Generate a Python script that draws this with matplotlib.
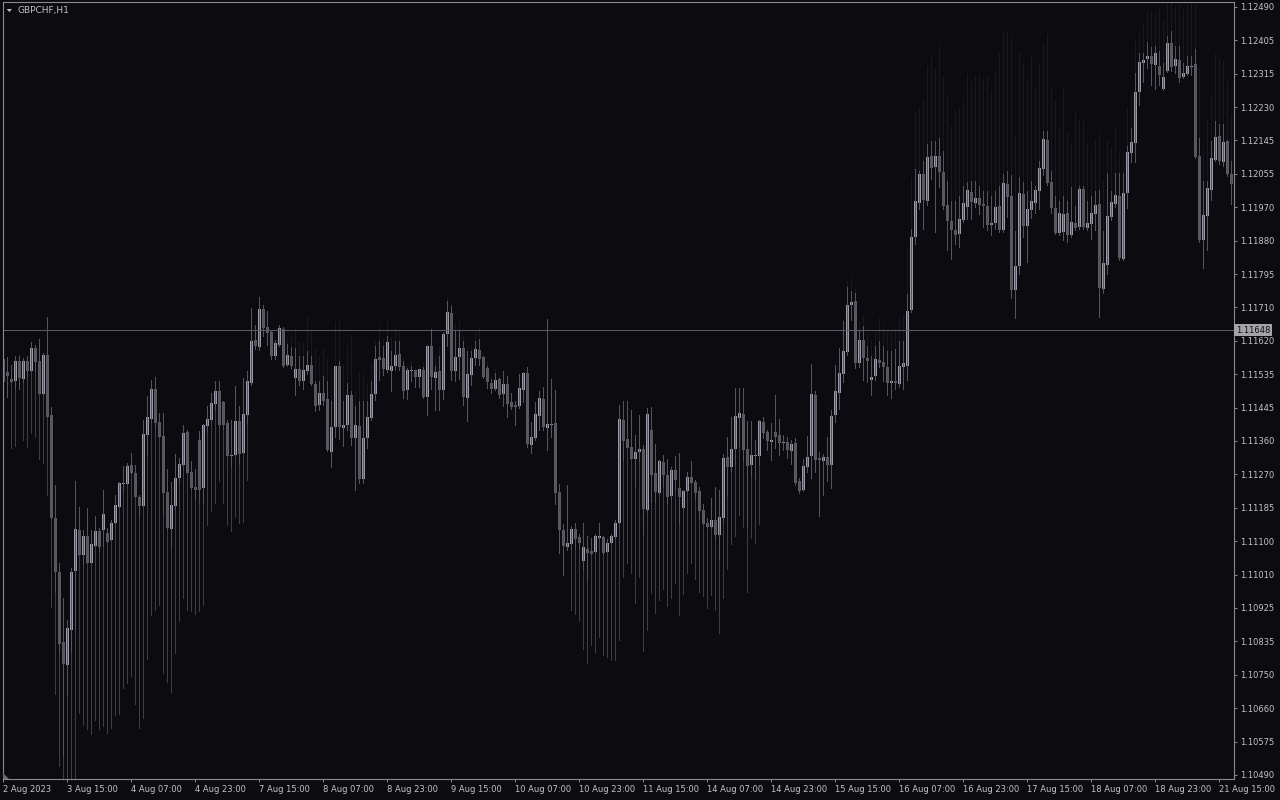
import numpy as np
import matplotlib
matplotlib.use('Agg')
import matplotlib.pyplot as plt
from matplotlib.patches import Polygon

# GBPCHF H1 candles, one bar per hour (weekend hours skipped)
symbol = 'GBPCHF,H1'
bid = 1.11648

opens = [
    1.11574, 1.11539, 1.11521, 1.11515, 1.11568, 1.11521, 1.11568, 1.11541, 1.11602, 1.11568, 1.11482, 1.11584,
    1.11427, 1.11159, 1.11019, 1.10836, 1.10776, 1.10867, 1.11021, 1.11128, 1.11063, 1.11112, 1.11042, 1.11086,
    1.11125, 1.11128, 1.11120, 1.11102, 1.11146, 1.11188, 1.11248, 1.11248, 1.11297, 1.11276, 1.11214, 1.11190,
    1.11375, 1.11417, 1.11495, 1.11409, 1.11372, 1.11227, 1.11131, 1.11190, 1.11263, 1.11297, 1.11383, 1.11279,
    1.11240, 1.11362, 1.11237, 1.11398, 1.11414, 1.11456, 1.11489, 1.11461, 1.11406, 1.11320, 1.11323, 1.11411,
    1.11328, 1.11427, 1.11510, 1.11623, 1.11605, 1.11704, 1.11657, 1.11644, 1.11581, 1.11610, 1.11652, 1.11558,
    1.11581, 1.11523, 1.11548, 1.11515, 1.11541, 1.11558, 1.11508, 1.11453, 1.11484, 1.11469, 1.11331, 1.11396,
    1.11555, 1.11393, 1.11401, 1.11479, 1.11367, 1.11398, 1.11261, 1.11367, 1.11419, 1.11482, 1.11579, 1.11576,
    1.11544, 1.11541, 1.11555, 1.11587, 1.11555, 1.11492, 1.11541, 1.11544, 1.11526, 1.11544, 1.11474, 1.11607,
    1.11523, 1.11541, 1.11492, 1.11639, 1.11693, 1.11541, 1.11579, 1.11602, 1.11471, 1.11531, 1.11576, 1.11597,
    1.11579, 1.11549, 1.11510, 1.11495, 1.11521, 1.11482, 1.11508, 1.11461, 1.11453, 1.11450, 1.11492, 1.11536,
    1.11349, 1.11367, 1.11424, 1.11469, 1.11393, 1.11401, 1.11406, 1.11227, 1.11128, 1.11084, 1.11092, 1.11131,
    1.11110, 1.11047, 1.11079, 1.11073, 1.11071, 1.11107, 1.11110, 1.11071, 1.11094, 1.11110, 1.11146, 1.11414,
    1.11365, 1.11344, 1.11313, 1.11331, 1.11339, 1.11180, 1.11388, 1.11276, 1.11224, 1.11305, 1.11271, 1.11216,
    1.11284, 1.11237, 1.11185, 1.11229, 1.11266, 1.11253, 1.11229, 1.11180, 1.11146, 1.11136, 1.11154, 1.11115,
    1.11159, 1.11318, 1.11292, 1.11339, 1.11419, 1.11430, 1.11339, 1.11297, 1.11320, 1.11320, 1.11409, 1.11383,
    1.11357, 1.11383, 1.11375, 1.11354, 1.11357, 1.11333, 1.11354, 1.11255, 1.11232, 1.11292, 1.11320, 1.11479,
    1.11315, 1.11307, 1.11318, 1.11297, 1.11427, 1.11484, 1.11534, 1.11592, 1.11714, 1.11724, 1.11563, 1.11623,
    1.11576, 1.11518, 1.11528, 1.11571, 1.11566, 1.11552, 1.11510, 1.11515, 1.11508, 1.11552, 1.11555, 1.11701,
    1.11891, 1.11979, 1.12055, 1.11985, 1.12101, 1.12073, 1.12101, 1.12060, 1.11974, 1.11932, 1.11909, 1.11899,
    1.11935, 1.11969, 1.12008, 1.11979, 1.11992, 1.11977, 1.11972, 1.11922, 1.11927, 1.11972, 1.11909, 1.12029,
    1.11997, 1.11753, 1.11815, 1.12003, 1.11919, 1.11961, 1.11979, 1.12010, 1.12068, 1.12143, 1.12034, 1.11966,
    1.11901, 1.11904, 1.11953, 1.11896, 1.11927, 1.11917, 1.12016, 1.11914, 1.11925, 1.11951, 1.11977, 1.11755,
    1.11818, 1.11943, 1.11977, 1.11997, 1.11834, 1.12005, 1.12109, 1.12135, 1.12268, 1.12344, 1.12354, 1.12362,
    1.12339, 1.12336, 1.12276, 1.12323, 1.12396, 1.12336, 1.12352, 1.12307, 1.12315, 1.12334, 1.12341, 1.12101,
    1.11883, 1.11946, 1.12013, 1.12091, 1.12154, 1.12086, 1.12141, 1.12055]

highs = [
    1.11597, 1.11579, 1.11558, 1.11581, 1.11581, 1.11576, 1.11581, 1.11618, 1.11610, 1.11626, 1.11589, 1.11683,
    1.11448, 1.11245, 1.11042, 1.10951, 1.10893, 1.11029, 1.11255, 1.11188, 1.11128, 1.11185, 1.11128, 1.11164,
    1.11133, 1.11232, 1.11133, 1.11154, 1.11219, 1.11253, 1.11294, 1.11302, 1.11328, 1.11297, 1.11219, 1.11414,
    1.11476, 1.11518, 1.11526, 1.11432, 1.11432, 1.11287, 1.11253, 1.11326, 1.11315, 1.11401, 1.11388, 1.11307,
    1.11287, 1.11385, 1.11404, 1.11450, 1.11484, 1.11515, 1.11515, 1.11463, 1.11414, 1.11414, 1.11502, 1.11450,
    1.11523, 1.11541, 1.11706, 1.11662, 1.11735, 1.11714, 1.11698, 1.11649, 1.11623, 1.11662, 1.11657, 1.11615,
    1.11607, 1.11605, 1.11584, 1.11584, 1.11597, 1.11584, 1.11518, 1.11518, 1.11531, 1.11518, 1.11466, 1.11558,
    1.11571, 1.11466, 1.11513, 1.11492, 1.11453, 1.11466, 1.11466, 1.11466, 1.11518, 1.11610, 1.11623, 1.11610,
    1.11636, 1.11597, 1.11623, 1.11623, 1.11571, 1.11552, 1.11558, 1.11546, 1.11549, 1.11555, 1.11610, 1.11652,
    1.11558, 1.11584, 1.11644, 1.11727, 1.11714, 1.11649, 1.11649, 1.11623, 1.11597, 1.11597, 1.11623, 1.11628,
    1.11584, 1.11558, 1.11523, 1.11539, 1.11526, 1.11541, 1.11528, 1.11484, 1.11463, 1.11534, 1.11539, 1.11552,
    1.11409, 1.11461, 1.11489, 1.11500, 1.11678, 1.11521, 1.11492, 1.11248, 1.11144, 1.11245, 1.11138, 1.11146,
    1.11118, 1.11146, 1.11112, 1.11107, 1.11118, 1.11146, 1.11112, 1.11105, 1.11118, 1.11154, 1.11453, 1.11463,
    1.11463, 1.11440, 1.11375, 1.11427, 1.11349, 1.11445, 1.11448, 1.11352, 1.11310, 1.11323, 1.11313, 1.11292,
    1.11320, 1.11328, 1.11232, 1.11279, 1.11307, 1.11258, 1.11240, 1.11196, 1.11159, 1.11211, 1.11240, 1.11232,
    1.11326, 1.11370, 1.11422, 1.11497, 1.11497, 1.11497, 1.11411, 1.11411, 1.11362, 1.11414, 1.11422, 1.11388,
    1.11406, 1.11479, 1.11417, 1.11375, 1.11370, 1.11362, 1.11367, 1.11263, 1.11313, 1.11372, 1.11560, 1.11489,
    1.11331, 1.11326, 1.11370, 1.11440, 1.11558, 1.11602, 1.11675, 1.11763, 1.11753, 1.11748, 1.11649, 1.11662,
    1.11610, 1.11584, 1.11610, 1.11623, 1.11610, 1.11597, 1.11597, 1.11602, 1.11623, 1.11623, 1.11745, 1.11914,
    1.12070, 1.12065, 1.12091, 1.12135, 1.12143, 1.12143, 1.12151, 1.12117, 1.12039, 1.11987, 1.11987, 1.12000,
    1.12026, 1.12037, 1.12039, 1.12039, 1.12026, 1.12013, 1.12013, 1.12000, 1.12013, 1.12026, 1.12057, 1.12065,
    1.12055, 1.11909, 1.12050, 1.12037, 1.12013, 1.12039, 1.12026, 1.12091, 1.12169, 1.12169, 1.12065, 1.12000,
    1.11987, 1.12000, 1.11987, 1.12023, 1.11974, 1.12026, 1.12026, 1.11987, 1.12000, 1.12013, 1.12016, 1.11909,
    1.12060, 1.12013, 1.12060, 1.12060, 1.12060, 1.12130, 1.12177, 1.12320, 1.12373, 1.12373, 1.12401, 1.12388,
    1.12391, 1.12378, 1.12347, 1.12417, 1.12430, 1.12391, 1.12391, 1.12347, 1.12365, 1.12365, 1.12383, 1.12151,
    1.12039, 1.12039, 1.12143, 1.12196, 1.12188, 1.12188, 1.12146, 1.12091]

lows = [
    1.11510, 1.11474, 1.11510, 1.11492, 1.11495, 1.11510, 1.11523, 1.11539, 1.11539, 1.11479, 1.11476, 1.11419,
    1.11157, 1.10964, 1.10807, 1.10537, 1.10693, 1.10807, 1.10867, 1.11060, 1.11037, 1.11040, 1.11040, 1.11084,
    1.11071, 1.11084, 1.11094, 1.11099, 1.11144, 1.11185, 1.11227, 1.11245, 1.11274, 1.11211, 1.11162, 1.11188,
    1.11318, 1.11406, 1.11388, 1.11367, 1.11167, 1.11128, 1.11084, 1.11180, 1.11250, 1.11292, 1.11274, 1.11232,
    1.11206, 1.11198, 1.11193, 1.11380, 1.11406, 1.11440, 1.11393, 1.11388, 1.11318, 1.11292, 1.11320, 1.11297,
    1.11326, 1.11401, 1.11505, 1.11600, 1.11597, 1.11633, 1.11610, 1.11574, 1.11574, 1.11607, 1.11552, 1.11555,
    1.11549, 1.11479, 1.11505, 1.11495, 1.11534, 1.11505, 1.11437, 1.11440, 1.11453, 1.11333, 1.11292, 1.11370,
    1.11365, 1.11346, 1.11388, 1.11349, 1.11232, 1.11250, 1.11250, 1.11341, 1.11414, 1.11466, 1.11518, 1.11531,
    1.11539, 1.11489, 1.11544, 1.11544, 1.11471, 1.11469, 1.11515, 1.11500, 1.11500, 1.11471, 1.11427, 1.11495,
    1.11440, 1.11440, 1.11469, 1.11607, 1.11518, 1.11515, 1.11521, 1.11453, 1.11411, 1.11505, 1.11558, 1.11558,
    1.11523, 1.11497, 1.11484, 1.11492, 1.11471, 1.11450, 1.11422, 1.11443, 1.11401, 1.11445, 1.11461, 1.11344,
    1.11328, 1.11362, 1.11388, 1.11388, 1.11336, 1.11370, 1.11196, 1.11068, 1.11011, 1.11076, 1.11076, 1.11076,
    1.11076, 1.11024, 1.10998, 1.11063, 1.11068, 1.11102, 1.11063, 1.11068, 1.11089, 1.11105, 1.11141, 1.11305,
    1.11339, 1.11310, 1.11240, 1.11305, 1.11115, 1.11172, 1.11198, 1.11198, 1.11219, 1.11240, 1.11193, 1.11206,
    1.11232, 1.11141, 1.11180, 1.11224, 1.11248, 1.11206, 1.11154, 1.11141, 1.11133, 1.11131, 1.11102, 1.11050,
    1.11146, 1.11214, 1.11279, 1.11297, 1.11344, 1.11305, 1.11136, 1.11266, 1.11258, 1.11297, 1.11367, 1.11336,
    1.11310, 1.11341, 1.11323, 1.11336, 1.11315, 1.11300, 1.11245, 1.11224, 1.11229, 1.11279, 1.11263, 1.11279,
    1.11164, 1.11219, 1.11255, 1.11237, 1.11409, 1.11443, 1.11513, 1.11584, 1.11675, 1.11549, 1.11552, 1.11518,
    1.11513, 1.11479, 1.11518, 1.11552, 1.11515, 1.11479, 1.11471, 1.11495, 1.11500, 1.11495, 1.11518, 1.11696,
    1.11873, 1.11964, 1.11912, 1.11974, 1.12042, 1.11904, 1.12021, 1.11964, 1.11857, 1.11834, 1.11873, 1.11865,
    1.11930, 1.11938, 1.11938, 1.11969, 1.11951, 1.11917, 1.11909, 1.11896, 1.11912, 1.11904, 1.11904, 1.11943,
    1.11732, 1.11680, 1.11795, 1.11891, 1.11826, 1.11940, 1.11953, 1.11964, 1.12052, 1.12026, 1.11953, 1.11899,
    1.11896, 1.11883, 1.11878, 1.11891, 1.11909, 1.11912, 1.11912, 1.11909, 1.11886, 1.11909, 1.11683, 1.11745,
    1.11795, 1.11935, 1.11969, 1.11831, 1.11831, 1.11966, 1.12086, 1.12086, 1.12235, 1.12295, 1.12331, 1.12287,
    1.12276, 1.12287, 1.12274, 1.12320, 1.12323, 1.12318, 1.12295, 1.12305, 1.12313, 1.12313, 1.12096, 1.11878,
    1.11810, 1.11857, 1.11987, 1.12089, 1.12081, 1.12076, 1.12050, 1.11977]

closes = [
    1.11513, 1.11528, 1.11513, 1.11568, 1.11523, 1.11568, 1.11541, 1.11602, 1.11566, 1.11482, 1.11584, 1.11422,
    1.11159, 1.11019, 1.10831, 1.10779, 1.10872, 1.11019, 1.11131, 1.11063, 1.11112, 1.11042, 1.11092, 1.11125,
    1.11084, 1.11170, 1.11097, 1.11146, 1.11193, 1.11250, 1.11250, 1.11294, 1.11276, 1.11214, 1.11190, 1.11378,
    1.11422, 1.11495, 1.11406, 1.11370, 1.11224, 1.11133, 1.11193, 1.11263, 1.11300, 1.11380, 1.11276, 1.11237,
    1.11232, 1.11232, 1.11401, 1.11417, 1.11458, 1.11489, 1.11401, 1.11401, 1.11320, 1.11323, 1.11411, 1.11326,
    1.11430, 1.11515, 1.11620, 1.11607, 1.11704, 1.11654, 1.11641, 1.11581, 1.11615, 1.11654, 1.11555, 1.11584,
    1.11555, 1.11548, 1.11515, 1.11544, 1.11558, 1.11508, 1.11450, 1.11484, 1.11463, 1.11336, 1.11396, 1.11555,
    1.11396, 1.11401, 1.11479, 1.11367, 1.11401, 1.11261, 1.11367, 1.11422, 1.11482, 1.11574, 1.11571, 1.11548,
    1.11618, 1.11555, 1.11584, 1.11552, 1.11489, 1.11544, 1.11544, 1.11526, 1.11546, 1.11474, 1.11607, 1.11526,
    1.11539, 1.11492, 1.11639, 1.11696, 1.11541, 1.11579, 1.11602, 1.11474, 1.11534, 1.11576, 1.11600, 1.11574,
    1.11526, 1.11513, 1.11495, 1.11518, 1.11479, 1.11508, 1.11456, 1.11448, 1.11448, 1.11497, 1.11536, 1.11352,
    1.11370, 1.11430, 1.11471, 1.11396, 1.11404, 1.11404, 1.11224, 1.11128, 1.11086, 1.11094, 1.11131, 1.11105,
    1.11094, 1.11084, 1.11068, 1.11066, 1.11112, 1.11112, 1.11068, 1.11094, 1.11112, 1.11146, 1.11417, 1.11359,
    1.11341, 1.11313, 1.11331, 1.11339, 1.11183, 1.11430, 1.11271, 1.11227, 1.11307, 1.11271, 1.11214, 1.11284,
    1.11258, 1.11214, 1.11229, 1.11266, 1.11250, 1.11224, 1.11177, 1.11144, 1.11136, 1.11154, 1.11115, 1.11162,
    1.11315, 1.11292, 1.11339, 1.11424, 1.11432, 1.11336, 1.11294, 1.11323, 1.11323, 1.11411, 1.11380, 1.11359,
    1.11362, 1.11370, 1.11354, 1.11357, 1.11336, 1.11352, 1.11250, 1.11229, 1.11294, 1.11318, 1.11482, 1.11310,
    1.11310, 1.11318, 1.11297, 1.11424, 1.11489, 1.11536, 1.11594, 1.11714, 1.11722, 1.11563, 1.11623, 1.11576,
    1.11568, 1.11526, 1.11574, 1.11563, 1.11552, 1.11510, 1.11515, 1.11510, 1.11555, 1.11563, 1.11698, 1.11891,
    1.11985, 1.12055, 1.11987, 1.12099, 1.12070, 1.12101, 1.12060, 1.11972, 1.11932, 1.11909, 1.11896, 1.11938,
    1.11979, 1.12013, 1.11982, 1.11992, 1.11974, 1.11972, 1.11922, 1.11927, 1.11969, 1.11909, 1.12031, 1.11995,
    1.11753, 1.11815, 1.12005, 1.11919, 1.11964, 1.11985, 1.12013, 1.12070, 1.12146, 1.12031, 1.11966, 1.11901,
    1.11953, 1.11951, 1.11896, 1.11930, 1.11914, 1.12016, 1.11917, 1.11927, 1.11953, 1.11974, 1.11758, 1.11823,
    1.11946, 1.11982, 1.12000, 1.11836, 1.12005, 1.12112, 1.12138, 1.12268, 1.12347, 1.12352, 1.12362, 1.12341,
    1.12370, 1.12313, 1.12307, 1.12396, 1.12334, 1.12354, 1.12305, 1.12318, 1.12336, 1.12336, 1.12099, 1.11883,
    1.11948, 1.12018, 1.12096, 1.12151, 1.12089, 1.12138, 1.12055, 1.12029]

# indicator projections: red below the low, blue above the high (None = not drawn)
dn_ext = [
    None, None, 1.11341, 1.11346, None, 1.11362, 1.11344, 1.11380, 1.11370, 1.11313, 1.11302, 1.11219,
    1.10928, 1.10701, 1.10513, 1.10450, 1.10450, 1.10450, 1.10450, 1.10651, 1.10620, 1.10610, 1.10597, 1.10633,
    1.10610, 1.10617, 1.10599, 1.10612, 1.10646, 1.10649, 1.10716, 1.10729, 1.10747, 1.10675, 1.10612, 1.10638,
    1.10792, 1.10906, 1.10919, 1.10933, 1.10755, 1.10732, 1.10706, 1.10807, 1.10890, 1.10951, 1.10919, 1.10916,
    1.10909, 1.10916, 1.10933, 1.11141, 1.11177, 1.11198, 1.11255, 1.11198, 1.11141, 1.11125, 1.11162, 1.11146,
    1.11149, 1.11258] + [None] * 80 + [
    1.10919, 1.10909,
    1.10890, 1.10818, 1.10781, 1.10828, 1.10810, 1.10849, 1.10802, 1.10797, 1.10789, 1.10789, 1.10841, 1.11005,
    1.11042, 1.11016, 1.10938, 1.11005, 1.10813, 1.10867, 1.10964, 1.10911, 1.10946, 1.10974, 1.10930, 1.10951,
    1.10990, 1.10906, 1.10961, 1.11016, 1.11042, 1.11000, 1.10966, 1.10956, 1.10925, 1.10959, 1.10919, 1.10859,
    1.10951, 1.11026, 1.11092, 1.11112, 1.11167, 1.11136, 1.10966, 1.11107, 1.11094, 1.11144] + [None] * 118

up_ext = [None] * 71 + [
    1.11628, 1.11633, 1.11652, 1.11618, 1.11618, 1.11688, 1.11649, 1.11605, 1.11579, 1.11600, 1.11576, 1.11548, 1.11670,
    1.11672, 1.11561, 1.11610, 1.11636, 1.11492, 1.11541, 1.11534, 1.11510, 1.11563, 1.11620, 1.11660, 1.11626,
    1.11672, 1.11631, 1.11654, 1.11646, 1.11579, 1.11555, 1.11568, 1.11549, 1.11558, 1.11566, 1.11615, None,
    1.11576, 1.11605, None, 1.11732, 1.11717, 1.11667, 1.11670, 1.11633, 1.11605, 1.11610, 1.11644, 1.11657,
    1.11592, 1.11568, 1.11528, 1.11546, 1.11531] + [None] * 85 + [
    1.11677, 1.11776, 1.11784, 1.11758, 1.11672, 1.11688, 1.11639, 1.11620, 1.11644, 1.11680, 1.11660, 1.11649,
    1.11644, 1.11652, 1.11677, 1.11688, 1.11867, 1.12044, 1.12216, 1.12229, 1.12250, 1.12336, 1.12357, 1.12328,
    1.12388, 1.12307, 1.12261, 1.12180, 1.12219, 1.12224, 1.12253, 1.12315, 1.12297, 1.12312, 1.12312, 1.12302,
    1.12307, 1.12274, 1.12326, 1.12370, 1.12425, 1.12427, 1.12409, 1.12154, 1.12370, 1.12344, 1.12302, 1.12360,
    1.12279, 1.12341, 1.12396, 1.12419, 1.12279, 1.12245, 1.12177, 1.12276, 1.12162, 1.12133, 1.12211, 1.12196,
    1.12193, 1.12133, 1.12107, 1.12146, 1.12159, 1.12037, 1.12141, 1.12125, 1.12177, 1.12109, 1.12109, 1.12229,
    1.12266, 1.12401, 1.12422, 1.12448, 1.12482, 1.12479, 1.12474, 1.12485, 1.12453, 1.12520, 1.12520, 1.12492,
    1.12498, 1.12485, 1.12495, 1.12520, 1.12520, 1.12331, 1.12128, 1.12196, 1.12258, 1.12367, 1.12354, 1.12349,
    1.12297, 1.12211]

time_labels = ['2 Aug 2023', '3 Aug 15:00', '4 Aug 07:00', '4 Aug 23:00', '7 Aug 15:00',
               '8 Aug 07:00', '8 Aug 23:00', '9 Aug 15:00', '10 Aug 07:00', '10 Aug 23:00',
               '11 Aug 15:00', '14 Aug 07:00', '14 Aug 23:00', '15 Aug 15:00', '16 Aug 07:00',
               '16 Aug 23:00', '17 Aug 15:00', '18 Aug 07:00', '18 Aug 23:00', '21 Aug 15:00']
price_labels = ['1.12490', '1.12405', '1.12315', '1.12230', '1.12145', '1.12055', '1.11970', '1.11880',
                '1.11795', '1.11710', '1.11620', '1.11535', '1.11445', '1.11360', '1.11270', '1.11185',
                '1.11100', '1.11010', '1.10925', '1.10835', '1.10750', '1.10660', '1.10575', '1.10490']

# colours
bg_col = '#0b0b10'
bull_col = '#9a9aa6'
bear_col = '#5a5a60'
wick_col = '#55555c'
red_col = '#d40000'
blue_col = '#0000e4'
frame_col = '#8a8a94'
text_col = '#c4c4c8'

o = np.array(opens)
h = np.array(highs)
l = np.array(lows)
c = np.array(closes)
dn = np.array(dn_ext, dtype=float)
upx = np.array(up_ext, dtype=float)
n = len(o)
assert len(h) == n and len(l) == n and len(c) == n and len(dn) == n and len(upx) == n
x = np.arange(n)

fig = plt.figure(figsize=(12.8, 8), dpi=100, facecolor=bg_col)
ax = fig.add_axes([2.7 / 1280, 21 / 800, (1234 - 2.7) / 1280, 777.5 / 800])
ax.set_facecolor(bg_col)

# wicks (1 px, crisp)
ax.vlines(x, l, h, colors=wick_col, linewidth=0.72, antialiased=False)
# projections
m = ~np.isnan(dn)
ax.vlines(x[m], dn[m], l[m], colors=red_col, linewidth=0.72, antialiased=False)
m = ~np.isnan(upx)
ax.vlines(x[m], h[m], upx[m], colors=blue_col, linewidth=0.72, antialiased=False)

# bodies
bull = c >= o
bottom = np.minimum(o, c)
height = np.maximum(np.abs(c - o), 0.000028)
ax.bar(x[bull], height[bull], bottom=bottom[bull], width=0.75, color=bull_col, linewidth=0, antialiased=False)
ax.bar(x[~bull], height[~bull], bottom=bottom[~bull], width=0.75, color=bear_col, linewidth=0, antialiased=False)

# bid line and its label
ax.axhline(bid, color='#5c5c66', linewidth=0.72, antialiased=False)
ax.text(1.0016, bid, '%.5f' % bid, transform=ax.get_yaxis_transform(), ha='left', va='center',
        fontsize=6, color='#101014',
        bbox=dict(boxstyle='square,pad=0.18', fc='#a4a4a8', ec='none'))

ax.set_xlim(-0.16, 307.67)
ax.set_ylim(1.104793, 1.125041)

for s in ax.spines.values():
    s.set_color(frame_col)
    s.set_linewidth(0.8)

ax.yaxis.tick_right()
ax.set_yticks(np.linspace(1.12490, 1.10490, len(price_labels)))
ax.set_yticklabels(price_labels)
ax.set_xticks(np.arange(len(time_labels)) * 16)
ax.set_xticklabels(time_labels, ha='left')
ax.tick_params(axis='y', direction='out', length=2.5, width=0.7, colors=frame_col,
               labelcolor=text_col, labelsize=6, pad=2)
ax.tick_params(axis='x', direction='out', length=2.5, width=0.7, colors=frame_col,
               labelcolor=text_col, labelsize=6, pad=2)

# header: small triangle + symbol
fig.patches.append(Polygon([[6.7 / 1280, 1 - 9 / 800], [12 / 1280, 1 - 9 / 800], [9.3 / 1280, 1 - 12 / 800]],
                           closed=True, transform=fig.transFigure, fc=text_col, ec='none'))
fig.text(17.5 / 1280, 1 - 10.5 / 800, symbol, color=text_col, fontsize=6.5, va='center', ha='left')
# shift marker at the lower left corner
fig.patches.append(Polygon([[2.7 / 1280, 1 - 773 / 800], [2.7 / 1280, 1 - 779 / 800], [8.5 / 1280, 1 - 779 / 800]],
                           closed=True, transform=fig.transFigure, fc='#6a6a72', ec='none'))

fig.savefig('out.png', dpi=100, facecolor=bg_col)
